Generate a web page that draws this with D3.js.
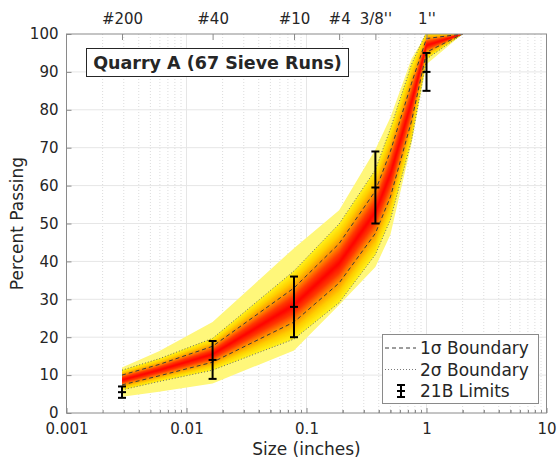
<!DOCTYPE html>
<html>
<head>
<meta charset="utf-8">
<script src="https://d3js.org/d3.v7.min.js"></script>
<style>
  body { margin: 0; background: #fff; }
  text { font-family: "DejaVu Sans", sans-serif; fill: #262626; }
</style>
</head>
<body>
<svg width="559" height="461"></svg>
<script>
// sieve sizes (inches) where the 67 runs were measured
const sieveSize = [0.0029, 0.0059, 0.0165, 0.0787, 0.187, 0.375, 0.5, 0.75, 1.0, 2.0];
const meanPass  = [8.7, 11.3, 15.5, 28.5, 39.5, 53, 63, 82, 97, 100];
const sdPass    = [1.3, 1.5, 2.1, 4.5, 5.2, 5.6, 6, 5, 1.8, 0];
const minPass   = [4.3, 5.6, 7.8, 16.5, 28.5, 38.5, 47, 71, 92, 100];
const maxPass   = [12, 16.3, 24, 43.5, 53.5, 69.5, 78, 93.5, 100, 100];

// 21B spec limits
const specSize = [0.0029, 0.0165, 0.0787, 0.375, 1.0];
const specLow  = [4, 9, 20, 50, 85];
const specHigh = [7, 19, 36, 69, 95];

// top axis sieve labels
const topTickSize  = [0.0029, 0.0165, 0.0787, 0.187, 0.375, 1.0];
const topTickLabel = ["#200", "#40", "#10", "#4", "3/8''", "1''"];

const svg = d3.select("svg");
const pL = 66.5, pR = 546.5, pT = 34, pB = 413;

const x = d3.scaleLog().domain([0.001, 10]).range([pL, pR]);
const y = d3.scaleLinear().domain([0, 100]).range([pB, pT]);

const rows = sieveSize.map((s, i) => ({
  s: s, m: meanPass[i], sd: sdPass[i], lo: minPass[i], hi: maxPass[i]
}));

svg.append("clipPath").attr("id", "plot")
  .append("rect").attr("x", pL).attr("y", pT)
  .attr("width", pR - pL).attr("height", pB - pT);

// grid
const grid = svg.append("g");
const minorX = [];
for (let e = -3; e < 1; e++) for (let k = 2; k <= 9; k++) minorX.push(k * Math.pow(10, e));
grid.selectAll(".gminor").data(minorX).enter().append("line")
  .attr("x1", d => x(d)).attr("x2", d => x(d))
  .attr("y1", pT).attr("y2", pB)
  .attr("stroke", "#dcdcdc").attr("stroke-dasharray", "1,2");
grid.selectAll(".gmajx").data([0.01, 0.1, 1]).enter().append("line")
  .attr("x1", d => x(d)).attr("x2", d => x(d))
  .attr("y1", pT).attr("y2", pB)
  .attr("stroke", "#e6e6e6");
grid.selectAll(".gmajy").data(d3.range(10, 100, 10)).enter().append("line")
  .attr("x1", pL).attr("x2", pR)
  .attr("y1", d => y(d)).attr("y2", d => y(d))
  .attr("stroke", "#e6e6e6");

// shaded band
const plot = svg.append("g").attr("clip-path", "url(#plot)");

plot.append("path").datum(rows)
  .attr("d", d3.area().x(d => x(d.s)).y0(d => y(d.lo)).y1(d => y(d.hi)))
  .attr("fill", "#fff77a");

const bandColor = d3.scaleLinear()
  .domain([0, 0.5, 1, 1.5, 2])
  .range(["#ff0000", "#ff3a00", "#ff9400", "#ffd000", "#fff21a"]);
const levels = d3.range(2, 0, -0.05);
plot.selectAll(".lvl").data(levels).enter().append("path")
  .attr("d", z => d3.area()
    .x(d => x(d.s))
    .y0(d => y(d.m - z * d.sd))
    .y1(d => y(d.m + z * d.sd))(rows))
  .attr("fill", z => bandColor(z));

// sigma boundaries
[[1, "4,3", "#3a3a3a"], [2, "1,2", "#6a6a6a"]].forEach(([k, dash, col]) => {
  [-1, 1].forEach(sgn => {
    plot.append("path").datum(rows)
      .attr("d", d3.line().x(d => x(d.s)).y(d => y(d.m + sgn * k * d.sd)))
      .attr("fill", "none").attr("stroke", col).attr("stroke-width", 1)
      .attr("stroke-dasharray", dash);
  });
});

// 21B limits
const eb = svg.append("g").attr("stroke", "#000").attr("stroke-width", 2);
specSize.forEach((s, i) => {
  const cx = x(s), mid = (specLow[i] + specHigh[i]) / 2;
  eb.append("line").attr("x1", cx).attr("x2", cx).attr("y1", y(specLow[i])).attr("y2", y(specHigh[i]));
  [specLow[i], mid, specHigh[i]].forEach(v => {
    eb.append("line").attr("x1", cx - 4).attr("x2", cx + 4).attr("y1", y(v)).attr("y2", y(v));
  });
});

// axes
const axisColor = "#8a8a8a";
function styleAxis(g) {
  g.select(".domain").remove();
  g.selectAll("line").attr("stroke", axisColor);
  g.selectAll("text").attr("fill", "#262626").style("font-size", "15px");
}

svg.append("g").attr("transform", `translate(0,${pB})`)
  .call(d3.axisBottom(x).tickValues([0.001, 0.01, 0.1, 1, 10])
    .tickFormat(d3.format("~g")).tickSizeInner(-5).tickSizeOuter(0).tickPadding(10))
  .call(styleAxis);
svg.append("g").attr("transform", `translate(0,${pB})`)
  .call(d3.axisBottom(x).tickValues(minorX.concat(minorX.map(d => d * 10).filter(d => d < 10)))
    .tickFormat("").tickSizeInner(-3).tickSizeOuter(0))
  .call(styleAxis);

svg.append("g").attr("transform", `translate(0,${pT})`)
  .call(d3.axisTop(x).tickValues(topTickSize)
    .tickFormat((d, i) => topTickLabel[i]).tickSizeInner(-6).tickSizeOuter(0).tickPadding(10))
  .call(styleAxis);

svg.append("g").attr("transform", `translate(${pL},0)`)
  .call(d3.axisLeft(y).tickValues(d3.range(0, 101, 10))
    .tickSizeInner(-5).tickSizeOuter(0).tickPadding(8))
  .call(styleAxis);

svg.append("rect").attr("x", pL).attr("y", pT)
  .attr("width", pR - pL).attr("height", pB - pT)
  .attr("fill", "none").attr("stroke", axisColor);

svg.append("text").attr("x", (pL + pR) / 2).attr("y", 455)
  .attr("text-anchor", "middle").style("font-size", "17px").text("Size (inches)");
svg.append("text").attr("transform", `translate(23,${(pT + pB) / 2}) rotate(-90)`)
  .attr("text-anchor", "middle").style("font-size", "17px").text("Percent Passing");

// title box
svg.append("rect").attr("x", 86.5).attr("y", 48.5).attr("width", 262).attr("height", 28)
  .attr("fill", "#fff").attr("stroke", "#262626");
svg.append("text").attr("x", 217.5).attr("y", 69)
  .attr("text-anchor", "middle").style("font-size", "17.5px").style("font-weight", "bold")
  .text("Quarry A (67 Sieve Runs)");

// legend
const lg = svg.append("g");
lg.append("rect").attr("x", 382.5).attr("y", 334.5).attr("width", 156).attr("height", 69)
  .attr("fill", "#fff").attr("stroke", axisColor);
const legendRows = [
  { label: "1σ Boundary", dash: "4,3", col: "#3a3a3a" },
  { label: "2σ Boundary", dash: "1,2", col: "#7a7a7a" },
  { label: "21B Limits" }
];
legendRows.forEach((r, i) => {
  const ly = 348 + i * 21.5;
  if (r.dash) {
    lg.append("line").attr("x1", 385).attr("x2", 416).attr("y1", ly).attr("y2", ly)
      .attr("stroke", r.col).attr("stroke-dasharray", r.dash);
  } else {
    const g = lg.append("g").attr("stroke", "#000").attr("stroke-width", 2);
    g.append("line").attr("x1", 401).attr("x2", 401).attr("y1", ly - 6).attr("y2", ly + 6);
    [-6, 0, 6].forEach(o => g.append("line").attr("x1", 397).attr("x2", 405)
      .attr("y1", ly + o).attr("y2", ly + o));
  }
  lg.append("text").attr("x", 420).attr("y", ly + 6).style("font-size", "17px").text(r.label);
});
</script>
</body>
</html>
